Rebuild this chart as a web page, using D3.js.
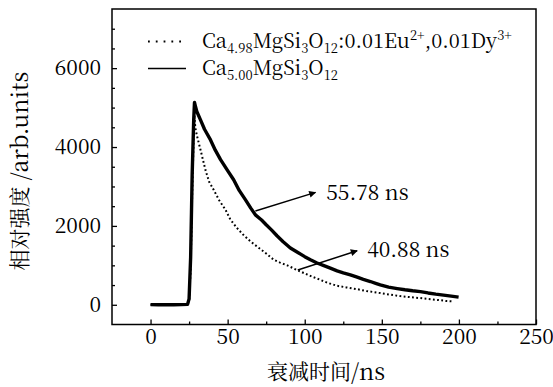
<!DOCTYPE html>
<html>
<head>
<meta charset="utf-8">
<script src="https://cdn.jsdelivr.net/npm/d3@7"></script>
<style>
  body { margin: 0; background: #fff; }
</style>
</head>
<body>
<svg id="chart" width="553" height="387"></svg>
<script>
// 衰减曲线数据
const solidTime = [0, 5, 10, 15, 20, 24, 25, 26, 27, 28, 28.5, 29, 30, 32.4, 35, 38.9, 42, 45.4, 50, 53.9,
  57.5, 61.6, 65, 68, 72, 75, 78.4, 82, 86, 90.7, 95, 100, 103.7, 108, 112, 116.6, 121, 125, 129.6, 134,
  138, 142.6, 146, 149, 154.4, 160, 165, 170, 175, 180, 185, 190, 195, 199.8];
const solidValue = [5, 0, 5, 0, 5, 10, 150, 1200, 3300, 4700, 5130, 5050, 4900, 4690, 4450, 4180, 3920, 3680, 3400, 3170,
  2900, 2660, 2450, 2280, 2150, 2030, 1900, 1750, 1600, 1440, 1340, 1220, 1140, 1060, 1000, 930, 860, 810, 760, 700,
  645, 590, 545, 507, 448, 410, 380, 355, 335, 300, 270, 245, 220, 195];

const dopedTime = [0, 5, 10, 15, 20, 24, 25, 26, 27, 28, 28.5, 29, 30, 32.4, 35.6, 38, 41, 44.5, 48.6, 51.8,
  56, 60, 65, 70, 75, 79.9, 84, 88.6, 94, 99.4, 105, 110, 115, 120.9, 127, 133.8, 140, 149, 155, 162,
  168, 175, 182, 188, 192, 196];
const dopedValue = [0, 5, 0, 5, 0, 5, 100, 900, 2800, 4300, 4800, 4500, 4300, 3930, 3420, 3120, 2910, 2650, 2410, 2160,
  1950, 1780, 1600, 1450, 1300, 1140, 1070, 1000, 900, 805, 710, 634, 555, 482, 440, 397, 350, 296, 260, 220,
  195, 169, 140, 115, 95, 85];

const xTicks = [0, 50, 100, 150, 200, 250];
const yTicks = [0, 2000, 4000, 6000];
const lifetimeLabels = ["55.78 ns", "40.88 ns"];

// 宋体风格 (拉丁字母也用该字体的衬线字形)
const FONT = "Noto Serif CJK SC";

const svg = d3.select("#chart");

const x = d3.scaleLinear().domain([-25, 250]).range([112, 536]);
const y = d3.scaleLinear().domain([-500, 7500]).range([324.5, 9]);

// 箭头
const defs = svg.append("defs");
defs.append("marker")
  .attr("id", "arrow")
  .attr("viewBox", "0 0 10 10")
  .attr("refX", 9).attr("refY", 5)
  .attr("markerWidth", 11).attr("markerHeight", 7)
  .attr("markerUnits", "userSpaceOnUse")
  .attr("orient", "auto")
  .append("path")
  .attr("d", "M0,0 L10,5 L0,10 z")
  .attr("fill", "#000");

// 刻度
const fmt = d3.format("d");
const xMajor = d3.axisBottom(x).tickValues(xTicks).tickFormat(fmt).tickSizeInner(-5).tickSizeOuter(0).tickPadding(5);
const xMinor = d3.axisBottom(x).tickValues([25, 75, 125, 175, 225]).tickSizeInner(-3).tickSizeOuter(0).tickFormat("");
const yMajor = d3.axisLeft(y).tickValues(yTicks).tickFormat(fmt).tickSizeInner(-5).tickSizeOuter(0).tickPadding(11);
const yMinor = d3.axisLeft(y).tickValues(d3.range(500, 7500, 500).filter(v => v % 2000 !== 0))
  .tickSizeInner(-3).tickSizeOuter(0).tickFormat("");

function styleAxis(g) {
  g.attr("font-family", FONT).attr("font-size", 21);
  g.select(".domain").remove();
  g.selectAll("line").attr("stroke", "#000").attr("stroke-width", 1.3);
  g.selectAll("text").attr("fill", "#000").attr("font-family", FONT);
}

svg.append("g").attr("transform", "translate(0,324.5)").call(xMajor).call(styleAxis);
svg.append("g").attr("transform", "translate(0,324.5)").call(xMinor).call(styleAxis);
svg.append("g").attr("transform", "translate(112,0)").call(yMajor).call(styleAxis);
svg.append("g").attr("transform", "translate(112,0)").call(yMinor).call(styleAxis);

// 曲线
const line = d3.line().x(d => x(d[0])).y(d => y(d[1]));

svg.append("path")
  .datum(d3.zip(dopedTime, dopedValue))
  .attr("d", line)
  .attr("fill", "none")
  .attr("stroke", "#000")
  .attr("stroke-width", 2)
  .attr("stroke-dasharray", "1.8 2.4");

svg.append("path")
  .datum(d3.zip(solidTime, solidValue))
  .attr("d", line)
  .attr("fill", "none")
  .attr("stroke", "#000")
  .attr("stroke-width", 3.4)
  .attr("stroke-linejoin", "round");

// 边框
svg.append("rect")
  .attr("x", 112).attr("y", 9)
  .attr("width", 424).attr("height", 315.5)
  .attr("fill", "none")
  .attr("stroke", "#000")
  .attr("stroke-width", 1.5);

// 寿命标注
const arrows = [
  { from: [68, 2380], to: [107, 2850], label: [114, 2880] },
  { from: [95.5, 880], to: [134, 1370], label: [140.5, 1430] }
];
arrows.forEach((a, i) => {
  svg.append("line")
    .attr("x1", x(a.from[0])).attr("y1", y(a.from[1]))
    .attr("x2", x(a.to[0])).attr("y2", y(a.to[1]))
    .attr("stroke", "#000").attr("stroke-width", 1.5)
    .attr("marker-end", "url(#arrow)");
  svg.append("text")
    .attr("x", x(a.label[0])).attr("y", y(a.label[1]))
    .attr("dominant-baseline", "central")
    .attr("font-family", FONT).attr("font-size", 21)
    .text(lifetimeLabels[i]);
});

// 图例
function chemText(g, xPos, yPos, parts) {
  const t = g.append("text").attr("x", xPos).attr("y", yPos)
    .attr("font-family", FONT).attr("font-size", 20);
  let shift = 0;
  parts.forEach(([s, kind]) => {
    const target = kind === "sub" ? 5 : kind === "sup" ? -8 : 0;
    t.append("tspan")
      .attr("dy", target - shift)
      .attr("font-family", FONT)
      .attr("font-size", kind ? 13 : 20)
      .text(s);
    shift = target;
  });
}

const legend = svg.append("g");
legend.append("line")
  .attr("x1", 148).attr("x2", 186).attr("y1", 41.5).attr("y2", 41.5)
  .attr("stroke", "#000").attr("stroke-width", 1.8).attr("stroke-dasharray", "1.8 6");
legend.append("line")
  .attr("x1", 148).attr("x2", 186).attr("y1", 68.5).attr("y2", 68.5)
  .attr("stroke", "#000").attr("stroke-width", 1.6);

chemText(legend, 202, 48, [["Ca"], ["4.98", "sub"], ["MgSi"], ["3", "sub"], ["O"], ["12", "sub"],
  [":0.01Eu"], ["2+", "sup"], [",0.01Dy"], ["3+", "sup"]]);
chemText(legend, 202, 75, [["Ca"], ["5.00", "sub"], ["MgSi"], ["3", "sub"], ["O"], ["12", "sub"]]);

// 坐标轴标题
const xTitle = svg.append("text")
  .attr("x", 326).attr("y", 370)
  .attr("text-anchor", "middle")
  .attr("dominant-baseline", "central")
  .attr("font-family", FONT);
xTitle.append("tspan").attr("font-family", FONT).attr("font-size", 21).text("衰减时间");
xTitle.append("tspan").attr("font-family", FONT).attr("font-size", 23).text("/ns");

const yTitle = svg.append("text")
  .attr("transform", "translate(18,171) rotate(-90)")
  .attr("text-anchor", "middle")
  .attr("dominant-baseline", "central")
  .attr("font-family", FONT);
yTitle.append("tspan").attr("font-family", FONT).attr("font-size", 21).text("相对强度");
yTitle.append("tspan").attr("font-family", FONT).attr("font-size", 23).text(" /arb.units");
</script>
</body>
</html>
